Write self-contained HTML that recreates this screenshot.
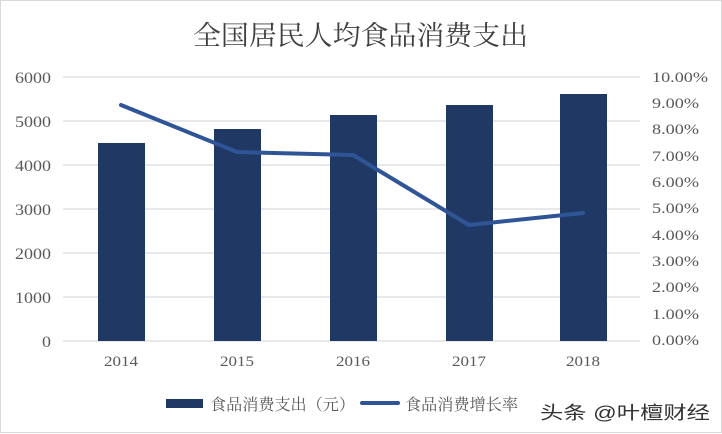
<!DOCTYPE html><html><head><meta charset="utf-8"><style>
body{margin:0;background:#fff}
svg{display:block}
text{font-family:"Liberation Serif","Noto Serif CJK SC",serif;fill:#595959}
</style></head><body>
<svg width="722" height="434" viewBox="0 0 722 434">
<rect x="0.5" y="0.5" width="721" height="432" fill="#fff" stroke="#d9d9d9"/>
<text x="193" y="45" font-size="27" textLength="335" lengthAdjust="spacingAndGlyphs" style="fill:#404040">全国居民人均食品消费支出</text>
<g stroke="#d9d9d9" stroke-width="1.3">
<line x1="63" x2="640" y1="77" y2="77"/><line x1="63" x2="640" y1="121" y2="121"/>
<line x1="63" x2="640" y1="165" y2="165"/><line x1="63" x2="640" y1="209" y2="209"/>
<line x1="63" x2="640" y1="253" y2="253"/><line x1="63" x2="640" y1="297" y2="297"/>
<line x1="63" x2="640" y1="341" y2="341"/>
</g>
<g font-size="16">
<text x="15" y="83" textLength="36" lengthAdjust="spacingAndGlyphs">6000</text>
<text x="15" y="127" textLength="36" lengthAdjust="spacingAndGlyphs">5000</text>
<text x="15" y="171" textLength="36" lengthAdjust="spacingAndGlyphs">4000</text>
<text x="15" y="215" textLength="36" lengthAdjust="spacingAndGlyphs">3000</text>
<text x="15" y="259" textLength="36" lengthAdjust="spacingAndGlyphs">2000</text>
<text x="15" y="303" textLength="36" lengthAdjust="spacingAndGlyphs">1000</text>
<text x="42" y="347" textLength="9" lengthAdjust="spacingAndGlyphs">0</text>
</g>
<g font-size="15">
<text x="652" y="82" textLength="56" lengthAdjust="spacingAndGlyphs">10.00%</text>
<text x="652" y="108" textLength="47" lengthAdjust="spacingAndGlyphs">9.00%</text>
<text x="652" y="134" textLength="47" lengthAdjust="spacingAndGlyphs">8.00%</text>
<text x="652" y="161" textLength="47" lengthAdjust="spacingAndGlyphs">7.00%</text>
<text x="652" y="187" textLength="47" lengthAdjust="spacingAndGlyphs">6.00%</text>
<text x="652" y="213" textLength="47" lengthAdjust="spacingAndGlyphs">5.00%</text>
<text x="652" y="240" textLength="47" lengthAdjust="spacingAndGlyphs">4.00%</text>
<text x="652" y="266" textLength="47" lengthAdjust="spacingAndGlyphs">3.00%</text>
<text x="652" y="292" textLength="47" lengthAdjust="spacingAndGlyphs">2.00%</text>
<text x="652" y="319" textLength="47" lengthAdjust="spacingAndGlyphs">1.00%</text>
<text x="652" y="345" textLength="47" lengthAdjust="spacingAndGlyphs">0.00%</text>
</g>
<g fill="#1f3864">
<rect x="98" y="143" width="47" height="198"/>
<rect x="214" y="129" width="47" height="212"/>
<rect x="330" y="115" width="47" height="226"/>
<rect x="446" y="105" width="47" height="236"/>
<rect x="560" y="94" width="47" height="247"/>
</g>
<polyline points="121,105 237,152 353,155 469,225 583,213" fill="none" stroke="#2f5597" stroke-width="4" stroke-linejoin="round" stroke-linecap="round"/>
<g font-size="15">
<text x="104" y="366" textLength="34" lengthAdjust="spacingAndGlyphs">2014</text>
<text x="220" y="366" textLength="34" lengthAdjust="spacingAndGlyphs">2015</text>
<text x="336" y="366" textLength="34" lengthAdjust="spacingAndGlyphs">2016</text>
<text x="452" y="366" textLength="34" lengthAdjust="spacingAndGlyphs">2017</text>
<text x="566" y="366" textLength="34" lengthAdjust="spacingAndGlyphs">2018</text>
</g>
<rect x="166" y="399" width="37" height="9" fill="#1f3864"/>
<text x="210" y="410" font-size="16" textLength="145" lengthAdjust="spacingAndGlyphs">食品消费支出（元）</text>
<line x1="362" x2="398" y1="403" y2="403" stroke="#2f5597" stroke-width="4" stroke-linecap="round"/>
<text x="405" y="410" font-size="16" textLength="113" lengthAdjust="spacingAndGlyphs">食品消费增长率</text>
<text x="540" y="419" font-size="18" textLength="170" lengthAdjust="spacingAndGlyphs" style="font-family:'Liberation Sans','Noto Sans CJK SC',sans-serif;fill:#333">头条 @叶檀财经</text>
</svg>
</body></html>
